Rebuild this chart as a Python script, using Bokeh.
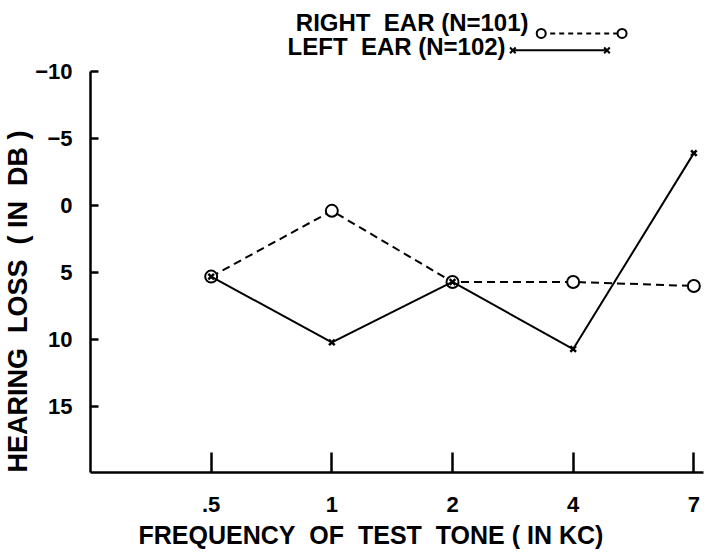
from bokeh.plotting import figure
from bokeh.models import Range1d, FixedTicker, Label, Title
from bokeh.embed import file_html
from bokeh.resources import INLINE

# ---- data ----
freqs = [".5", "1", "2", "4", "7"]
right_ear = [5.3, 0.4, 5.7, 5.7, 6.0]
left_ear = [5.3, 10.2, 5.7, 10.7, -3.9]
y_ticks = [-10, -5, 0, 5, 10, 15]
NB = "\u00a0"
right_label = f"RIGHT{NB} EAR{NB}(N=101)"
left_label = f"LEFT{NB} EAR{NB}(N=102)"
x_title = f"FREQUENCY{NB} OF{NB} TEST{NB} TONE{NB}( IN KC)"
y_title = f"HEARING{NB} LOSS{NB} ( IN{NB} DB )"

xs = list(range(len(freqs)))
FONT = "Liberation Sans"

p = figure(width=709, height=552, output_backend="svg", toolbar_location=None,
           x_range=Range1d(-1, 4.08), y_range=Range1d(19.9, -14.53),
           min_border_left=90, min_border_right=6, min_border_top=10,
           min_border_bottom=78)
p.outline_line_color = None
p.grid.visible = False
p.background_fill_color = "white"

# axes
for ax in (p.xaxis, p.yaxis):
    ax.axis_line_color = "black"
    ax.axis_line_width = 2.5
    ax.major_tick_line_color = "black"
    ax.major_tick_line_width = 2.5
    ax.minor_tick_line_color = None
    ax.major_tick_out = 0
    ax.major_label_text_font = FONT
    ax.major_label_text_font_style = "bold"
    ax.major_label_text_font_size = "22px"
    ax.major_label_text_color = "black"

p.xaxis.ticker = FixedTicker(ticks=xs)
p.xaxis.major_label_overrides = {i: f for i, f in enumerate(freqs)}
p.xaxis.major_tick_in = 20
p.xaxis.major_label_standoff = 24
p.xaxis.major_label_text_line_height = 0.8
p.xaxis.bounds = (-1, 4.08)

p.yaxis.ticker = FixedTicker(ticks=y_ticks)
p.yaxis.major_tick_in = 8
p.yaxis.major_label_standoff = 18
p.yaxis.bounds = (-10, 19.9)

# titles placed beside the axes
p.add_layout(Title(text=x_title, align="left", offset=48, standoff=8,
                   text_font=FONT, text_font_style="bold",
                   text_font_size="25px", text_line_height=0.8,
                   text_color="black"), "below")
p.add_layout(Title(text=y_title, align="left", standoff=0,
                   text_font=FONT, text_font_style="bold",
                   text_font_size="27px", text_line_height=0.9,
                   text_color="black"), "left")

# series
p.line(xs, right_ear, line_color="black", line_width=2, line_dash="8 5")
p.scatter(xs, right_ear, marker="circle", size=12, fill_color="white",
          line_color="black", line_width=2)
p.line(xs, left_ear, line_color="black", line_width=2)
p.scatter(xs, left_ear, marker="x", size=8, line_color="black", line_width=2.5)

# legend (drawn manually, keys to the right of the text)
LEG_R_Y, LEG_L_Y = -12.82, -11.56
leg_r_x = [2.735, 3.405]
leg_l_x = [2.50, 3.28]
p.line(leg_r_x, [LEG_R_Y] * 2, line_color="black", line_width=2, line_dash="5 4")
p.scatter(leg_r_x, [LEG_R_Y] * 2, marker="circle", size=9, fill_color="white",
          line_color="black", line_width=2)
p.line(leg_l_x, [LEG_L_Y] * 2, line_color="black", line_width=2)
p.scatter(leg_l_x, [LEG_L_Y] * 2, marker="x", size=8, line_color="black", line_width=2)
p.add_layout(Label(x=2.63, y=-13.64, text=right_label, text_align="right",
                   text_baseline="middle", text_font=FONT, text_font_style="bold",
                   text_font_size="24px", text_color="black"))
p.add_layout(Label(x=2.44, y=-11.85, text=left_label, text_align="right",
                   text_baseline="middle", text_font=FONT, text_font_style="bold",
                   text_font_size="24px", text_color="black"))

open("out.html", "w").write(file_html(p, INLINE))
